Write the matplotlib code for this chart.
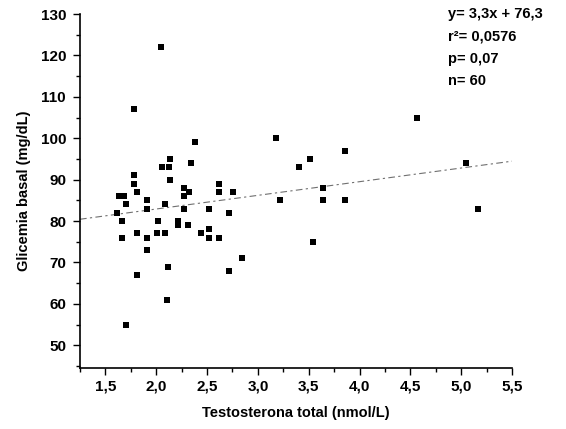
import numpy as np
import matplotlib
matplotlib.use("Agg")
from matplotlib import pyplot as plt
from matplotlib.ticker import MultipleLocator, FuncFormatter

plt.rcParams["font.family"] = ["Liberation Sans", "DejaVu Sans"]
plt.rcParams["font.weight"] = "bold"

# testosterona total (nmol/L) and glicemia basal (mg/dL)
testosterona = [
    2.05, 1.78, 3.18, 2.38, 2.14, 2.34, 2.06, 2.13, 1.78, 1.78,
    2.14, 2.27, 2.62, 1.81, 2.32, 2.62, 2.76, 1.63, 1.68, 2.27,
    1.70, 1.91, 1.91, 2.09, 2.27, 2.52, 3.22, 1.61, 2.72, 1.66,
    2.02, 2.21, 2.21, 2.31, 2.52, 1.81, 2.01, 2.09, 2.44, 1.66,
    1.91, 2.52, 2.62, 1.91, 2.84, 2.12, 2.72, 1.81, 2.11, 1.70,
    4.57, 3.86, 3.51, 3.40, 5.05, 3.64, 3.64, 3.86, 5.17, 3.54,
]
glicemia = [
    122, 107, 100, 99, 95, 94, 93, 93, 91, 89,
    90, 88, 89, 87, 87, 87, 87, 86, 86, 86,
    84, 85, 83, 84, 83, 83, 85, 82, 82, 80,
    80, 80, 79, 79, 78, 77, 77, 77, 77, 76,
    76, 76, 76, 73, 71, 69, 68, 67, 61, 55,
    105, 97, 95, 93, 94, 88, 85, 85, 83, 75,
]

# regression reported on the chart
slope, intercept = 3.3, 76.3
stats_lines = ["y= 3,3x + 76,3", "r²= 0,0576", "p= 0,07", "n= 60"]

x_range = (1.25, 5.5)
y_range = (44.5, 130)

fig = plt.figure(figsize=(5.66, 4.29), dpi=100)
ax = fig.add_axes([80 / 566, 61 / 429, (512 - 80) / 566, (368 - 14) / 429])

ax.scatter(testosterona, glicemia, marker="s", s=17, color="black",
           linewidths=0, zorder=3)

xs = np.array(x_range)
ax.plot(xs, slope * xs + intercept, color="#707070", lw=0.8,
        linestyle=(0, (6, 3, 2, 3)), zorder=2)

ax.set_xlim(*x_range)
ax.set_ylim(*y_range)

ax.xaxis.set_minor_locator(MultipleLocator(0.25))
ax.yaxis.set_minor_locator(MultipleLocator(5))
ax.set_xticks([v for v in np.arange(1.5, 5.51, 0.5)])
ax.set_yticks(list(range(50, 131, 10)))
ax.xaxis.set_major_formatter(FuncFormatter(lambda v, p: f"{v:.1f}".replace(".", ",")))

ax.tick_params(axis="both", which="major", length=5, width=1.0,
               labelsize=11, direction="out")
ax.tick_params(axis="x", which="major", pad=3)
ax.tick_params(axis="y", which="major", pad=5)
ax.tick_params(axis="both", which="minor", length=3, width=1.0, direction="out")

for side in ("top", "right"):
    ax.spines[side].set_visible(False)
for side in ("left", "bottom"):
    ax.spines[side].set_linewidth(1.2)

ax.set_xlabel("Testosterona total (nmol/L)", fontsize=10.5, fontweight="bold",
              labelpad=9)
ax.set_ylabel("Glicemia basal (mg/dL)", fontsize=10.5, fontweight="bold",
              labelpad=7)

fig.text(448 / 566, 1 - 7 / 429, "\n".join(stats_lines), fontsize=10.5,
         fontweight="bold", va="top", ha="left", linespacing=1.75)

fig.savefig("out.png", dpi=100)
